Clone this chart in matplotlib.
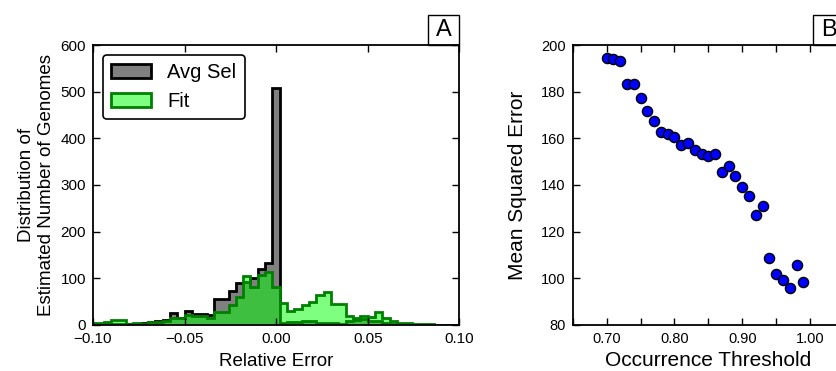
import numpy as np
import matplotlib
matplotlib.use("Agg")
import matplotlib.pyplot as plt
from matplotlib.patches import Rectangle

plt.rcParams['font.family'] = ['Liberation Sans', 'DejaVu Sans']

# panel A: histograms of relative error, bins of width 0.004 centred on k*0.004
bin_width = 0.004
bin_index = np.arange(-25, 26)
avg_sel_counts = [2, 3, 3, 3, 2, 3, 2, 4, 6, 8, 11, 25, 16, 30, 24, 23, 21, 55, 56,
                  73, 91, 93, 100, 120, 132, 508, 4, 6, 6, 9, 9, 5, 4, 4, 3, 8, 10,
                  12, 8, 8, 5, 3, 2, 1, 1, 1, 1, 1, 1, 1, 1]
fit_counts = [5, 5, 6, 10, 10, 3, 5, 3, 7, 7, 9, 16, 14, 21, 19, 19, 14, 27, 27,
              43, 60, 106, 82, 107, 114, 81, 47, 30, 35, 43, 50, 64, 70, 44, 44,
              19, 14, 19, 17, 27, 14, 9, 5, 4, 2, 2, 2, 1, 1, 1, 1]
hist_labels = ["Avg Sel", "Fit"]

# panel B: mean squared error vs occurrence threshold
threshold = [0.70, 0.71, 0.72, 0.73, 0.74, 0.75, 0.76, 0.77, 0.78, 0.79, 0.80,
             0.81, 0.82, 0.83, 0.84, 0.85, 0.86, 0.87, 0.88, 0.89, 0.90, 0.91,
             0.92, 0.93, 0.94, 0.95, 0.96, 0.97, 0.98, 0.99]
mse = [194.6, 194.1, 193.1, 183.4, 183.4, 177.1, 171.9, 167.6, 162.8, 161.9,
       160.5, 157.1, 158.1, 155.2, 153.3, 152.6, 153.2, 145.7, 148.3, 143.7,
       139.3, 135.4, 127.0, 130.9, 108.8, 101.9, 99.1, 95.8, 105.9, 98.5]

bin_edges = np.append(bin_index - 0.5, bin_index[-1] + 0.5) * bin_width

fig = plt.figure(figsize=(8.36, 3.71), dpi=100)
axA = fig.add_axes([0.1112, 0.124, 0.4382, 0.7547])
axB = fig.add_axes([0.685, 0.124, 0.3246, 0.7547])


def panel_box(ax, letter, w, h):
    ax.add_patch(Rectangle((1 - w, 1), w, h, transform=ax.transAxes,
                           facecolor='white', edgecolor='black', lw=1, clip_on=False))
    ax.text(1 - w / 2, 1 + h / 2, letter, transform=ax.transAxes,
            ha='center', va='center', fontsize=17)


# ---- panel A
axA.stairs(avg_sel_counts, bin_edges, fill=True, facecolor='gray',
           edgecolor='black', linewidth=2, label=hist_labels[0])
axA.stairs(fit_counts, bin_edges, fill=True, facecolor=(0, 1, 0, 0.5),
           edgecolor='green', linewidth=2, label=hist_labels[1])
axA.set_xlim(-0.10, 0.10)
axA.set_ylim(0, 600)
axA.set_xticks([-0.10, -0.05, 0.00, 0.05, 0.10])
axA.set_xticklabels(["\u22120.10", "\u22120.05", "0.00", "0.05", "0.10"])
axA.set_yticks(range(0, 601, 100))
axA.set_xlabel("Relative Error", fontsize=13.5, labelpad=5)
axA.set_ylabel("Distribution of\nEstimated Number of Genomes", fontsize=13.5)
leg = axA.legend(loc='upper left', fontsize=14.5, fancybox=True, framealpha=1,
                 handlelength=2.0)
leg.get_frame().set_edgecolor('black')
leg.get_frame().set_linewidth(1.2)
panel_box(axA, "A", 0.0847, 0.107)

# ---- panel B
axB.plot(threshold, mse, 'o', ms=7.3, markerfacecolor='blue',
         markeredgecolor='black', mew=1, linestyle='none')
axB.set_xlim(0.65, 1.05)
axB.set_ylim(80, 200)
xt = [0.65, 0.70, 0.75, 0.80, 0.85, 0.90, 0.95, 1.00, 1.05]
axB.set_xticks(xt)
axB.set_xticklabels(["", "0.70", "", "0.80", "", "0.90", "", "1.00", ""])
axB.set_yticks(range(80, 201, 20))
axB.set_xlabel("Occurrence Threshold", fontsize=15)
axB.set_ylabel("Mean Squared Error", fontsize=15, labelpad=10)
panel_box(axB, "B", 0.114, 0.1075)

for ax, fs in ((axA, 11), (axB, 10.5)):
    ax.tick_params(direction='in', top=True, right=True, length=5, width=1,
                   labelsize=fs, pad=5)
    for s in ax.spines.values():
        s.set_linewidth(1.3)

fig.savefig("out.png", dpi=100)
